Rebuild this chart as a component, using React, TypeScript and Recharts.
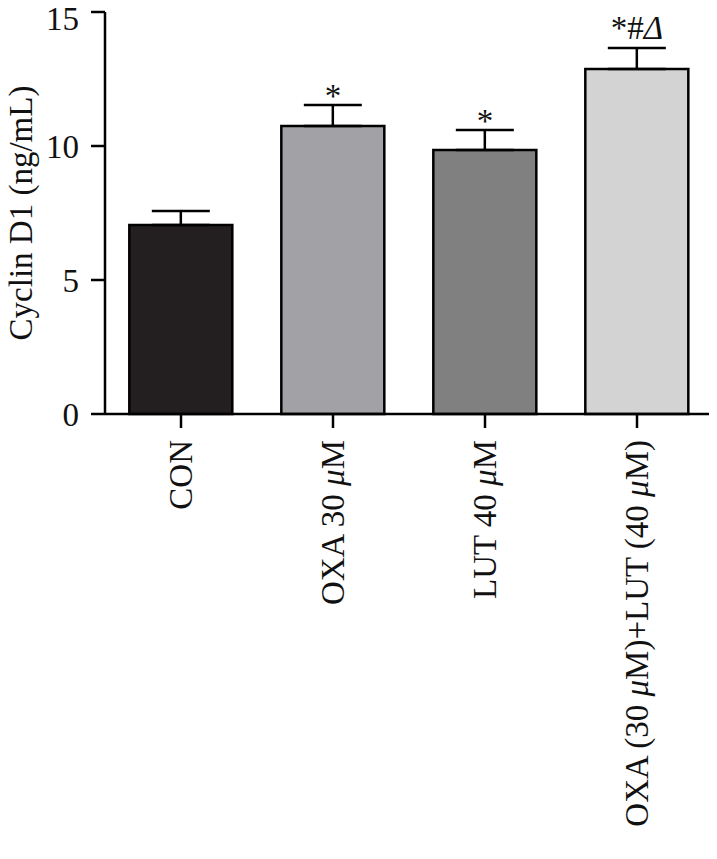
import { ComposedChart, Bar, Cell, Line, XAxis, YAxis, ErrorBar, LabelList, Label } from 'recharts';

const groups = ['CON', 'OXA 30 μM', 'LUT 40 μM', 'OXA (30 μM)+LUT (40 μM)'];
const cyclin = [7.05, 10.75, 9.85, 12.87];
const sem = [0.52, 0.78, 0.75, 0.79];
const marks = ['', '*', '*', '*#Δ'];
const fills = ['#231f20', '#a2a1a5', '#7f807f', '#d3d3d3'];
const yTicks = [0, 5, 10, 15];

const FONT = '"Liberation Serif", "DejaVu Serif", serif';
const FS = 33;

const data = groups.map((g, i) => ({
  group: g,
  value: cyclin[i],
  err: [0, sem[i]],
  top: cyclin[i] + sem[i],
  mark: marks[i],
}));

// put the micro sign / delta in italics like the original figure
function withItalics(text: string) {
  return text.split(/(μ|Δ)/).map((part, i) =>
    part === 'μ' || part === 'Δ' ? (
      <tspan key={i} fontStyle="italic">{part}</tspan>
    ) : (
      <tspan key={i}>{part}</tspan>
    )
  );
}

function GroupTick(props: any) {
  const { x, y, payload } = props;
  return (
    <text
      x={x}
      y={y}
      transform={`rotate(-90, ${x}, ${y})`}
      textAnchor="end"
      dominantBaseline="central"
      fontFamily={FONT}
      fontSize={FS}
      fill="#111"
    >
      {withItalics(payload.value)}
    </text>
  );
}

function MarkLabel(props: any) {
  const { x, y, value } = props;
  if (!value) return null;
  // a lone asterisk sits lower than the "*#Δ" group in the original
  const base = value === '*' ? y + 2 : y - 9;
  return (
    <text x={x} y={base} textAnchor="middle" fontFamily={FONT} fontSize={FS} fill="#111">
      {withItalics(value)}
    </text>
  );
}

function YTitle(props: any) {
  const vb = props.viewBox;
  const cx = vb.x + 21;
  const cy = vb.y + vb.height / 2;
  return (
    <text
      x={cx}
      y={cy}
      transform={`rotate(-90, ${cx}, ${cy})`}
      textAnchor="middle"
      dominantBaseline="central"
      fontFamily={FONT}
      fontSize={FS}
      fill="#111"
    >
      Cyclin D1 (ng/mL)
    </text>
  );
}

export default function App() {
  return (
    <div style={{ margin: -8, background: '#fff', width: 717, height: 859 }}>
      <ComposedChart
        width={717}
        height={859}
        data={data}
        margin={{ top: 12, right: 4, left: 0, bottom: 0 }}
        barCategoryGap="16%"
      >
        <XAxis
          dataKey="group"
          interval={0}
          height={445}
          tick={<GroupTick />}
          tickSize={14}
          tickMargin={12}
          axisLine={{ stroke: '#000', strokeWidth: 2.5 }}
          tickLine={{ stroke: '#000', strokeWidth: 2.5 }}
        />
        <YAxis
          width={105}
          domain={[0, 15]}
          ticks={yTicks}
          tickSize={14}
          tickMargin={12}
          tick={{ fontFamily: FONT, fontSize: FS, fill: '#111' }}
          axisLine={{ stroke: '#000', strokeWidth: 2.5 }}
          tickLine={{ stroke: '#000', strokeWidth: 2.5 }}
        >
          <Label content={<YTitle />} />
        </YAxis>
        <Bar dataKey="value" stroke="#000" strokeWidth={2.5} isAnimationActive={false}>
          {data.map((d, i) => (
            <Cell key={d.group} fill={fills[i]} />
          ))}
          <ErrorBar dataKey="err" direction="y" width={29} stroke="#000" strokeWidth={2.5} />
        </Bar>
        <Line
          dataKey="top"
          stroke="none"
          dot={false}
          activeDot={false}
          legendType="none"
          isAnimationActive={false}
        >
          <LabelList dataKey="mark" content={<MarkLabel />} />
        </Line>
      </ComposedChart>
    </div>
  );
}
